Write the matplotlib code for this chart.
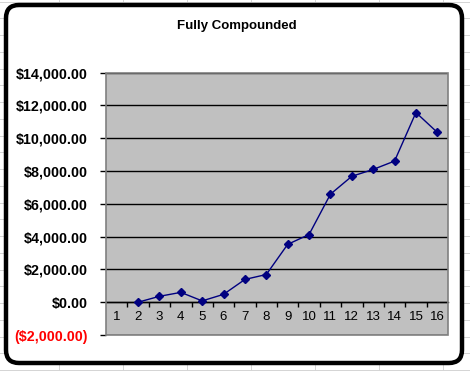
import matplotlib
matplotlib.use("Agg")
import matplotlib.pyplot as plt
from matplotlib.patches import FancyBboxPatch, Rectangle
from matplotlib.lines import Line2D
from matplotlib.ticker import FixedLocator

categories = list(range(1, 17))
x_values = [2, 3, 4, 5, 6, 7, 8, 9, 10, 11, 12, 13, 14, 15, 16]
y_values = [0, 360, 600, 80, 480, 1390, 1690, 3530, 4130, 6590, 7680, 8100, 8610, 11570, 10360]
y_ticks = [-2000, 0, 2000, 4000, 6000, 8000, 10000, 12000, 14000]
title = "Fully Compounded"

W, H = 470, 371
fig = plt.figure(figsize=(W / 100, H / 100), dpi=100)
fig.patch.set_facecolor("white")

# spreadsheet cell grid behind the chart
for k in range(8):
    xv = 58.7 + 64 * k
    fig.add_artist(Line2D([xv, xv], [0, H], transform=None, color="#d4d4d4", lw=0.7, zorder=0))
for k in range(23):
    yv = H - (1.5 + 16.75 * k)
    fig.add_artist(Line2D([0, W], [yv, yv], transform=None, color="#d4d4d4", lw=0.7, zorder=0))

# chart area with rounded border
box = FancyBboxPatch((6, H - 363), 456, 358, boxstyle="round,pad=0,rounding_size=13",
                     transform=None, facecolor="white", edgecolor="black", lw=3.2, zorder=1)
fig.add_artist(box)

font = "Liberation Sans"
ax = fig.add_axes([106 / W, (H - 335) / H, (448 - 106) / W, (335 - 72.7) / H])
ax.set_zorder(2)
ax.set_facecolor("#c0c0c0")
ax.set_xlim(0.5, 16.5)
ax.set_ylim(-2000, 14000)

ax.set_yticks(y_ticks)
labels = []
for v in y_ticks:
    if v < 0:
        labels.append("(${:,.2f})".format(-v))
    else:
        labels.append("${:,.2f}".format(v))
ax.set_yticklabels(labels, fontfamily=font, fontweight="bold", fontsize=10.3)
for lab, v in zip(ax.get_yticklabels(), y_ticks):
    lab.set_color("red" if v < 0 else "black")
ax.tick_params(axis="y", length=4, width=1, color="black", pad=9, direction="out")
ax.grid(axis="y", color="black", lw=1)
ax.set_axisbelow(True)

# category axis crossing at 0
ax.spines["bottom"].set_position(("data", 0))
ax.spines["bottom"].set_color("black")
ax.spines["bottom"].set_linewidth(1)
for s in ["top", "right", "left"]:
    ax.spines[s].set_visible(False)
ax.add_patch(Rectangle((0, 0), 1, 1, transform=ax.transAxes, fill=False,
                       edgecolor="#808080", lw=1.2, zorder=5, clip_on=False))
ax.set_xticks(categories)
ax.set_xticklabels([str(c) for c in categories], fontfamily=font, fontsize=9.5)
ax.xaxis.set_minor_locator(FixedLocator([c + 0.5 for c in categories[:-1]]))
ax.tick_params(axis="x", which="major", length=0, pad=6)
ax.tick_params(axis="x", which="minor", length=3.5, width=1, color="black", direction="out")

ax.plot(x_values, y_values, color="#000080", lw=1, marker="D", markersize=4.5,
        markerfacecolor="#000080", markeredgecolor="#000080", zorder=6, clip_on=False)

fig.text(237 / W, (H - 26) / H, title, ha="center", va="center",
         fontfamily=font, fontweight="bold", fontsize=9.5)

fig.savefig("out.png", dpi=100)
